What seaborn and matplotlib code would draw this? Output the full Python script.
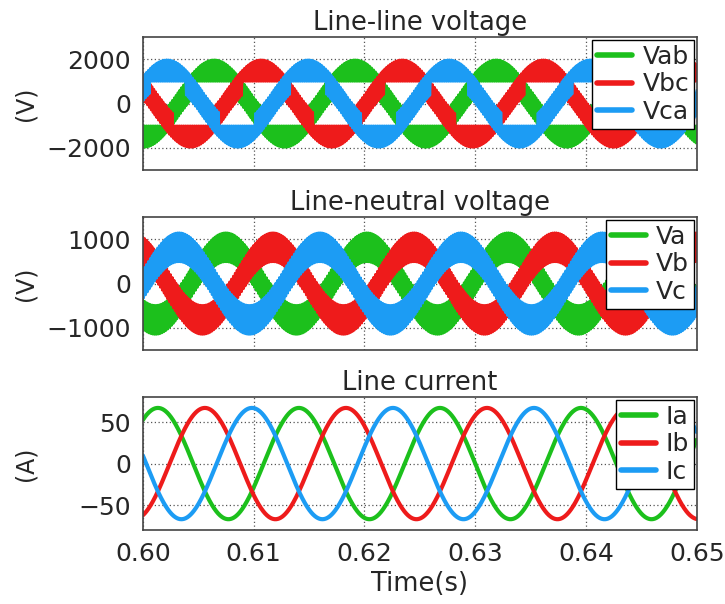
import numpy as np
import matplotlib
matplotlib.use("Agg")
import matplotlib.pyplot as plt
import seaborn as sns

# ---------------- data ----------------
t_start, t_end = 0.60, 0.65
fundamental_hz = 78.55          # ~3.9 cycles in 50 ms
carrier_hz = 6000               # PWM switching rate that fills the voltage bands
phase_shift_deg = [0, -120, 120]

labels_ll = ["Vab", "Vbc", "Vca"]
labels_ln = ["Va", "Vb", "Vc"]
labels_i = ["Ia", "Ib", "Ic"]

v_ln_peak_time = 0.6075         # time of the Va peak
v_ln_amplitude = 820            # V, line-neutral fundamental
v_ln_ripple = 330               # V, half-height of the switching band
v_ll_ripple = 560               # V, half-height of the line-line switching band
v_ll_level = 1000               # V, inner edge of the line-line peak blocks

i_peak_time = 0.60136           # time of the Ia peak
i_amplitude = 67                # A

ylim_ll, yticks_ll = (-3000, 3000), [-2000, 0, 2000]
ylim_ln, yticks_ln = (-1500, 1500), [-1000, 0, 1000]
ylim_i, yticks_i = (-80, 80), [-50, 0, 50]
xticks = [0.60, 0.61, 0.62, 0.63, 0.64, 0.65]
xticklabels = ["0.60", "0.61", "0.62", "0.63", "0.64", "0.65"]

colors = ["#1cc01c", "#ee1b1b", "#1c9cf4"]

# ---------------- waveforms ----------------
w = 2 * np.pi * fundamental_hz
n_sw = int(round((t_end - t_start) * 2 * carrier_hz)) + 1
t_sw = t_start + np.arange(n_sw) / (2 * carrier_hz)
sq = np.where(np.arange(n_sw) % 2 == 0, 1.0, -1.0)


def switched(ref, ripple, level=None):
    """Reference plus switching ripple; beyond +/-level the band keeps its inner edge at the level."""
    lo = ref - ripple
    hi = ref + ripple
    if level is not None:
        lo = np.where(ref > level, np.maximum(lo, level), lo)
        hi = np.where(ref < -level, np.minimum(hi, -level), hi)
    return np.where(sq > 0, hi, lo)


ref_ln = [v_ln_amplitude * np.cos(w * (t_sw - v_ln_peak_time) + np.deg2rad(s))
          for s in phase_shift_deg]
ref_ll = [ref_ln[0] - ref_ln[1], ref_ln[1] - ref_ln[2], ref_ln[2] - ref_ln[0]]

v_ln = [switched(r, v_ln_ripple) for r in ref_ln]
v_ll = [switched(r, v_ll_ripple, v_ll_level) for r in ref_ll]

t_i = np.linspace(t_start, t_end, 1500)
cur = [i_amplitude * np.cos(w * (t_i - i_peak_time) + np.deg2rad(s))
       for s in phase_shift_deg]

# ---------------- figure ----------------
sns.set_style("white")
plt.rcParams["font.family"] = ["DejaVu Sans"]

fig = plt.figure(figsize=(7.25, 6.04), dpi=100)
ax_w = 0.764
axs = [fig.add_axes([0.197, b, ax_w, 0.220]) for b in (0.7185, 0.4205, 0.1225)]

panels = [
    (axs[0], t_sw, v_ll, labels_ll, "Line-line voltage", "(V)", ylim_ll, yticks_ll, 1.8),
    (axs[1], t_sw, v_ln, labels_ln, "Line-neutral voltage", "(V)", ylim_ln, yticks_ln, 1.8),
    (axs[2], t_i, cur, labels_i, "Line current", "(A)", ylim_i, yticks_i, 3.0),
]

for ax, tt, series, labs, title, ylab, ylim, yt, lw in panels:
    for y, lab, c in zip(series, labs, colors):
        sns.lineplot(x=tt, y=y, ax=ax, color=c, lw=lw, label=lab,
                     estimator=None, sort=False)
    ax.set_xlim(t_start, t_end)
    ax.set_ylim(*ylim)
    ax.set_yticks(yt)
    ax.set_xticks(xticks)
    ax.grid(True, linestyle=(0, (1, 2)), color="#555555", lw=0.9)
    ax.set_axisbelow(True)
    ax.set_title(title, fontsize=18.5, pad=5)
    ax.set_ylabel(ylab, fontsize=17)
    ax.yaxis.set_label_coords(-0.19, 0.5)
    ax.tick_params(axis="both", direction="out", length=5, width=1,
                   labelsize=18, color="#333333")
    for sp in ax.spines.values():
        sp.set_color("#444444")
        sp.set_linewidth(1.2)
    leg = ax.legend(loc="upper right", fontsize=18, frameon=True, fancybox=False,
                    edgecolor="black", framealpha=1, borderpad=0.2,
                    labelspacing=0.15, handlelength=1.4, handletextpad=0.4,
                    borderaxespad=0.1)
    leg.get_frame().set_linewidth(1.0)
    for h in leg.get_lines():
        h.set_linewidth(4)

for ax in axs[:2]:
    ax.set_xticklabels([])
    ax.set_xlabel("")
axs[2].set_xticklabels(xticklabels)
axs[2].set_xlabel("Time(s)", fontsize=18.5, labelpad=4)

fig.savefig("out.png", dpi=100)
